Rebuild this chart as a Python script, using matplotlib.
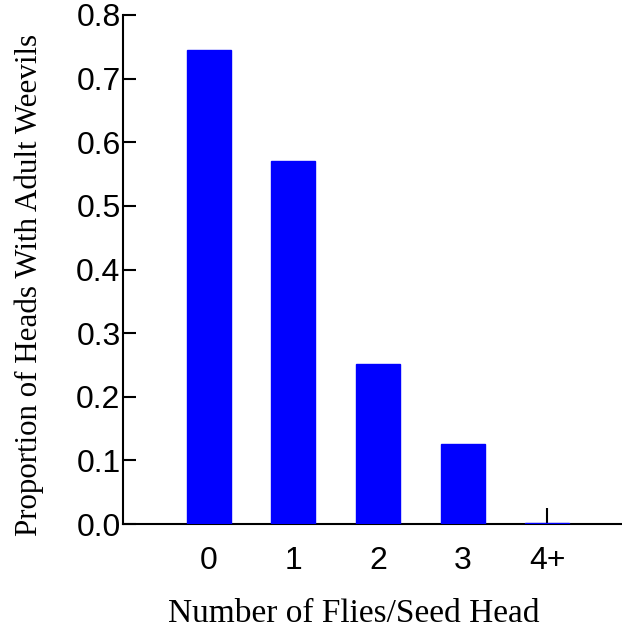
import numpy as np
import matplotlib.pyplot as plt

categories = ['0', '1', '2', '3', '4+']
proportions = [0.745, 0.571, 0.251, 0.126, 0.002]
yticks = [0.0, 0.1, 0.2, 0.3, 0.4, 0.5, 0.6, 0.7, 0.8]

fig = plt.figure(figsize=(6.22, 6.41), dpi=100)
ax = fig.add_axes([0.1983, 0.1825, 0.7997, 0.7941])

x = np.arange(len(categories))
ax.bar(x, proportions, width=0.52, color='#0000ff', edgecolor='#0000ff',
       linewidth=1.0, zorder=3)
ax.set_axisbelow(True)

ax.set_xlim(-1.01, 4.87)
ax.set_ylim(0, 0.8)
ax.set_xticks(x)
ax.set_xticklabels(categories)
ax.set_yticks(yticks)
ax.set_yticklabels(['%.1f' % v for v in yticks])

for s in ['top', 'right']:
    ax.spines[s].set_visible(False)
for s in ['left', 'bottom']:
    ax.spines[s].set_linewidth(1.5)

ax.tick_params(axis='y', direction='in', length=9.5, width=1.5, pad=2,
               labelsize=23)
ax.tick_params(axis='x', direction='in', length=11.5, width=1.5, pad=16,
               labelsize=23)
for lab in ax.get_xticklabels() + ax.get_yticklabels():
    lab.set_family('Liberation Sans')

fig.text(0.569, 0.043, 'Number of Flies/Seed Head', family='Liberation Serif',
         fontsize=24, ha='center', va='center')
fig.text(0.047, 0.555, 'Proportion of Heads With Adult Weevils',
         family='Liberation Serif', fontsize=22.3, ha='center', va='center',
         rotation=90)

fig.savefig('out.png', dpi=100)
